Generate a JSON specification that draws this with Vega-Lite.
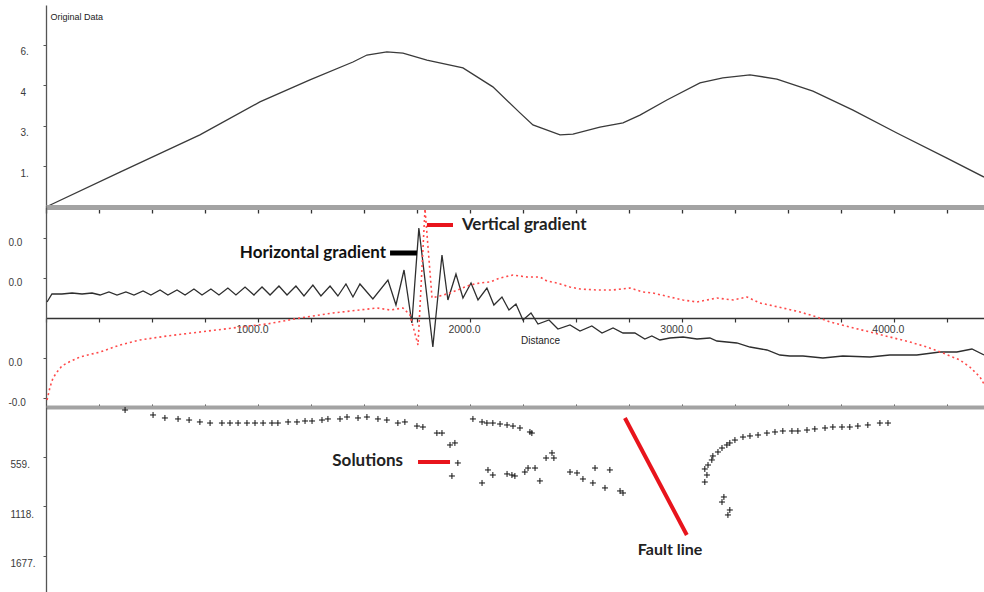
{
  "$schema": "https://vega.github.io/schema/vega-lite/v6.json",
  "padding": {"left": 8, "top": 5, "right": 0, "bottom": 0},
  "background": "white",
  "spacing": 0,
  "bounds": "flush",
  "resolve": {"scale": {"x": "independent", "y": "independent"}, "axis": {"x": "independent", "y": "independent"}},
  "config": {
    "view": {"stroke": null},
    "font": "Liberation Sans",
    "axis": {"grid": false, "labelFont": "Liberation Sans", "labelColor": "#3a3a3a", "labelFontSize": 10, "titleFont": "Liberation Sans", "titleColor": "#222", "titleFontWeight": "normal", "titleFontSize": 9, "domainColor": "#555", "tickColor": "#555", "labelFlush": false, "labelOverlap": false}
  },
  "datasets": {
    "orig": [
      {"x": 0, "y": 0}, {"x": 349, "y": 1.25}, {"x": 726, "y": 2.58}, {"x": 1009, "y": 3.76}, {"x": 1245, "y": 4.55},
      {"x": 1448, "y": 5.19}, {"x": 1514, "y": 5.44}, {"x": 1608, "y": 5.55}, {"x": 1684, "y": 5.51}, {"x": 1797, "y": 5.26},
      {"x": 1967, "y": 4.98}, {"x": 2108, "y": 4.30}, {"x": 2236, "y": 3.37}, {"x": 2297, "y": 2.94}, {"x": 2425, "y": 2.58},
      {"x": 2486, "y": 2.61}, {"x": 2613, "y": 2.86}, {"x": 2722, "y": 3.01}, {"x": 2802, "y": 3.29}, {"x": 2929, "y": 3.83},
      {"x": 3085, "y": 4.44}, {"x": 3193, "y": 4.62}, {"x": 3321, "y": 4.73}, {"x": 3448, "y": 4.58}, {"x": 3618, "y": 4.15},
      {"x": 3807, "y": 3.47}, {"x": 4014, "y": 2.65}, {"x": 4250, "y": 1.75}, {"x": 4425, "y": 1.07}
    ],
    "hgrad": [
      {"x": 5, "y": 0.40}, {"x": 28, "y": 0.60}, {"x": 75, "y": 0.60}, {"x": 123, "y": 0.625}, {"x": 170, "y": 0.60},
      {"x": 217, "y": 0.625}, {"x": 255, "y": 0.575}, {"x": 297, "y": 0.65}, {"x": 335, "y": 0.575}, {"x": 377, "y": 0.65},
      {"x": 415, "y": 0.575}, {"x": 458, "y": 0.675}, {"x": 495, "y": 0.575}, {"x": 538, "y": 0.70}, {"x": 575, "y": 0.575},
      {"x": 618, "y": 0.70}, {"x": 656, "y": 0.575}, {"x": 698, "y": 0.725}, {"x": 736, "y": 0.575}, {"x": 778, "y": 0.725},
      {"x": 816, "y": 0.575}, {"x": 858, "y": 0.75}, {"x": 896, "y": 0.575}, {"x": 939, "y": 0.775}, {"x": 981, "y": 0.575},
      {"x": 1019, "y": 0.775}, {"x": 1057, "y": 0.575}, {"x": 1099, "y": 0.80}, {"x": 1137, "y": 0.575}, {"x": 1179, "y": 0.80},
      {"x": 1217, "y": 0.55}, {"x": 1259, "y": 0.825}, {"x": 1297, "y": 0.55}, {"x": 1340, "y": 0.80}, {"x": 1377, "y": 0.55},
      {"x": 1415, "y": 0.85}, {"x": 1448, "y": 0.525}, {"x": 1481, "y": 0.85}, {"x": 1542, "y": 0.475}, {"x": 1613, "y": 0.95},
      {"x": 1651, "y": 0.325}, {"x": 1689, "y": 1.20}, {"x": 1726, "y": -0.125}, {"x": 1759, "y": 2.25}, {"x": 1825, "y": -0.725},
      {"x": 1868, "y": 1.575}, {"x": 1896, "y": 0.45}, {"x": 1934, "y": 1.10}, {"x": 1967, "y": 0.50}, {"x": 2005, "y": 0.875},
      {"x": 2038, "y": 0.45}, {"x": 2080, "y": 0.75}, {"x": 2113, "y": 0.325}, {"x": 2151, "y": 0.525}, {"x": 2184, "y": 0.20},
      {"x": 2217, "y": 0.35}, {"x": 2250, "y": -0.05}, {"x": 2288, "y": 0.125}, {"x": 2321, "y": -0.15}, {"x": 2373, "y": -0.05},
      {"x": 2415, "y": -0.275}, {"x": 2472, "y": -0.175}, {"x": 2519, "y": -0.325}, {"x": 2575, "y": -0.20}, {"x": 2623, "y": -0.375},
      {"x": 2675, "y": -0.25}, {"x": 2722, "y": -0.375}, {"x": 2778, "y": -0.375}, {"x": 2825, "y": -0.525}, {"x": 2858, "y": -0.45},
      {"x": 2896, "y": -0.55}, {"x": 2943, "y": -0.50}, {"x": 3005, "y": -0.475}, {"x": 3071, "y": -0.525}, {"x": 3132, "y": -0.50},
      {"x": 3165, "y": -0.575}, {"x": 3259, "y": -0.625}, {"x": 3321, "y": -0.725}, {"x": 3401, "y": -0.80}, {"x": 3462, "y": -0.925},
      {"x": 3509, "y": -0.95}, {"x": 3571, "y": -0.95}, {"x": 3665, "y": -1.00}, {"x": 3759, "y": -0.95}, {"x": 3887, "y": -0.975},
      {"x": 3981, "y": -0.925}, {"x": 4108, "y": -0.925}, {"x": 4217, "y": -0.85}, {"x": 4297, "y": -0.85}, {"x": 4368, "y": -0.775},
      {"x": 4425, "y": -0.925}
    ],
    "vgrad": [
      {"x": 5, "y": -2.05}, {"x": 19, "y": -1.725}, {"x": 33, "y": -1.50}, {"x": 52, "y": -1.35}, {"x": 75, "y": -1.20},
      {"x": 99, "y": -1.125}, {"x": 160, "y": -0.975}, {"x": 255, "y": -0.85}, {"x": 349, "y": -0.675}, {"x": 443, "y": -0.55},
      {"x": 571, "y": -0.45}, {"x": 726, "y": -0.35}, {"x": 882, "y": -0.25}, {"x": 1042, "y": -0.15}, {"x": 1198, "y": 0},
      {"x": 1354, "y": 0.125}, {"x": 1561, "y": 0.25}, {"x": 1623, "y": 0.20}, {"x": 1684, "y": 0.25}, {"x": 1717, "y": 0.075},
      {"x": 1755, "y": -0.675}, {"x": 1788, "y": 2.725}, {"x": 1821, "y": 0.50}, {"x": 1858, "y": 0.55}, {"x": 1906, "y": 0.625},
      {"x": 2000, "y": 0.825}, {"x": 2047, "y": 0.875}, {"x": 2094, "y": 0.90}, {"x": 2142, "y": 1.00}, {"x": 2203, "y": 1.075},
      {"x": 2269, "y": 1.025}, {"x": 2330, "y": 1.025}, {"x": 2363, "y": 0.925}, {"x": 2410, "y": 0.875}, {"x": 2472, "y": 0.775},
      {"x": 2519, "y": 0.725}, {"x": 2599, "y": 0.70}, {"x": 2675, "y": 0.70}, {"x": 2755, "y": 0.75}, {"x": 2816, "y": 0.65},
      {"x": 2863, "y": 0.625}, {"x": 2943, "y": 0.525}, {"x": 3005, "y": 0.45}, {"x": 3071, "y": 0.40}, {"x": 3165, "y": 0.50},
      {"x": 3241, "y": 0.45}, {"x": 3307, "y": 0.525}, {"x": 3368, "y": 0.375}, {"x": 3476, "y": 0.25}, {"x": 3557, "y": 0.15},
      {"x": 3637, "y": 0.025}, {"x": 3698, "y": -0.10}, {"x": 3792, "y": -0.225}, {"x": 3887, "y": -0.35}, {"x": 3981, "y": -0.475},
      {"x": 4075, "y": -0.60}, {"x": 4156, "y": -0.725}, {"x": 4231, "y": -0.875}, {"x": 4311, "y": -1.05}, {"x": 4358, "y": -1.225},
      {"x": 4406, "y": -1.475}, {"x": 4425, "y": -1.65}
    ],
    "sol": [
      {"x": 373, "y": 34}, {"x": 505, "y": 90}, {"x": 561, "y": 124}, {"x": 623, "y": 135}, {"x": 675, "y": 147},
      {"x": 726, "y": 169}, {"x": 774, "y": 181}, {"x": 830, "y": 181}, {"x": 868, "y": 181}, {"x": 906, "y": 181},
      {"x": 948, "y": 181}, {"x": 986, "y": 181}, {"x": 1024, "y": 181}, {"x": 1066, "y": 181}, {"x": 1094, "y": 181},
      {"x": 1142, "y": 169}, {"x": 1184, "y": 169}, {"x": 1222, "y": 158}, {"x": 1255, "y": 158}, {"x": 1302, "y": 147},
      {"x": 1330, "y": 135}, {"x": 1387, "y": 135}, {"x": 1420, "y": 113}, {"x": 1472, "y": 124}, {"x": 1514, "y": 113},
      {"x": 1566, "y": 135}, {"x": 1608, "y": 147}, {"x": 1660, "y": 181}, {"x": 1693, "y": 169}, {"x": 1750, "y": 215},
      {"x": 1778, "y": 226}, {"x": 1844, "y": 294}, {"x": 1868, "y": 294}, {"x": 1906, "y": 429}, {"x": 1929, "y": 406},
      {"x": 1943, "y": 632}, {"x": 1915, "y": 779}, {"x": 2014, "y": 135}, {"x": 2057, "y": 169}, {"x": 2080, "y": 181},
      {"x": 2108, "y": 181}, {"x": 2142, "y": 192}, {"x": 2175, "y": 203}, {"x": 2203, "y": 215}, {"x": 2236, "y": 237},
      {"x": 2283, "y": 282}, {"x": 2292, "y": 294}, {"x": 2057, "y": 858}, {"x": 2085, "y": 711}, {"x": 2108, "y": 768},
      {"x": 2175, "y": 756}, {"x": 2198, "y": 768}, {"x": 2212, "y": 779}, {"x": 2259, "y": 734}, {"x": 2274, "y": 689},
      {"x": 2307, "y": 689}, {"x": 2330, "y": 835}, {"x": 2359, "y": 576}, {"x": 2387, "y": 519}, {"x": 2396, "y": 576},
      {"x": 2472, "y": 734}, {"x": 2505, "y": 745}, {"x": 2533, "y": 813}, {"x": 2580, "y": 858}, {"x": 2590, "y": 689},
      {"x": 2637, "y": 914}, {"x": 2660, "y": 711}, {"x": 2708, "y": 948}, {"x": 2722, "y": 971},
      {"x": 3108, "y": 847}, {"x": 3118, "y": 768}, {"x": 3108, "y": 700}, {"x": 3123, "y": 655}, {"x": 3141, "y": 598},
      {"x": 3146, "y": 553}, {"x": 3170, "y": 508}, {"x": 3189, "y": 463}, {"x": 3212, "y": 429}, {"x": 3226, "y": 406},
      {"x": 3250, "y": 373}, {"x": 3288, "y": 339}, {"x": 3321, "y": 327}, {"x": 3359, "y": 316}, {"x": 3401, "y": 294},
      {"x": 3439, "y": 282}, {"x": 3476, "y": 271}, {"x": 3519, "y": 271}, {"x": 3547, "y": 271}, {"x": 3590, "y": 260},
      {"x": 3627, "y": 248}, {"x": 3675, "y": 237}, {"x": 3712, "y": 226}, {"x": 3755, "y": 226}, {"x": 3792, "y": 226},
      {"x": 3830, "y": 215}, {"x": 3877, "y": 203}, {"x": 3934, "y": 181}, {"x": 3972, "y": 181},
      {"x": 3198, "y": 1016}, {"x": 3189, "y": 1073}, {"x": 3226, "y": 1163}, {"x": 3217, "y": 1219}
    ]
  },
  "vconcat": [
    {
      "width": 938,
      "height": 202,
      "layer": [
        {
          "data": {"name": "orig"},
          "mark": {"type": "line", "color": "#3a3a3a", "strokeWidth": 1.3},
          "encoding": {
            "x": {"field": "x", "type": "quantitative", "scale": {"domain": [0, 4425], "nice": false, "zero": false},
              "axis": {"orient": "bottom", "title": null, "labels": false, "values": [0, 250, 500, 750, 1000, 1250, 1500, 1750, 2000, 2250, 2500, 2750, 3000, 3250, 3500, 3750, 4000, 4250], "domainColor": "#a3a3a3", "domainWidth": 5, "tickColor": "#333", "tickSize": 6, "tickWidth": 1.3, "zindex": 1}},
            "y": {"field": "y", "type": "quantitative", "scale": {"domain": [0, 7.23], "nice": false, "zero": false},
              "axis": {"orient": "left", "values": [1.45, 2.9, 4.35, 5.8], "labelExpr": "datum.value < 2 ? '1.' : datum.value < 3.5 ? '3.' : datum.value < 5 ? '4' : '6.'", "labelAlign": "left", "labelPadding": 23, "tickSize": 3, "labelOffset": 7, "labelBaseline": "middle", "domainWidth": 1.3, "title": "Original Data", "titleAngle": 0, "titleX": 4, "titleY": 11, "titleAlign": "left", "titleBaseline": "middle"}}
          }
        }
      ]
    },
    {
      "width": 938,
      "height": 200,
      "layer": [
        {
          "data": {"name": "hgrad"},
          "mark": {"type": "line", "color": "#2e2e2e", "strokeWidth": 1.3},
          "encoding": {
            "x": {"field": "x", "type": "quantitative", "scale": {"domain": [0, 4425], "nice": false, "zero": false},
              "axis": {"orient": "bottom", "offset": -89, "values": [0, 250, 500, 750, 1000, 1250, 1500, 1750, 2000, 2250, 2500, 2750, 3000, 3250, 3500, 3750, 4000, 4250], "labelExpr": "datum.value > 0 && datum.value % 1000 == 0 ? format(datum.value, '.1f') : ''", "labelOffset": -6, "labelPadding": 2, "labelFontSize": 10.5, "domainColor": "#333", "domainWidth": 1.3, "tickColor": "#333", "tickSize": 4, "tickWidth": 1.2, "title": "Distance", "titleFontSize": 10, "titleX": 494, "titleY": 17, "titleBaseline": "top", "titleAnchor": null}},
            "y": {"field": "y", "type": "quantitative", "scale": {"domain": [-2.225, 2.775], "nice": false, "zero": false},
              "axis": {"orient": "left", "values": [-2, -1, 1, 2], "labelExpr": "datum.value < -1.5 ? '-0.0' : '0.0'", "labelAlign": "left", "labelPadding": 35, "tickSize": 3, "labelOffset": 4, "labelBaseline": "middle", "domainWidth": 1.3, "title": null}}
          }
        },
        {
          "data": {"name": "vgrad"},
          "mark": {"type": "line", "color": "#ff4a4a", "strokeWidth": 1.6, "strokeDash": [2, 3]},
          "encoding": {
            "x": {"field": "x", "type": "quantitative"},
            "y": {"field": "y", "type": "quantitative"}
          }
        },
        {
          "data": {"values": [{"x": 1623, "x2": 1750, "y": 1.625}]},
          "mark": {"type": "rule", "color": "#000000", "strokeWidth": 5},
          "encoding": {
            "x": {"field": "x", "type": "quantitative"},
            "x2": {"field": "x2"},
            "y": {"field": "y", "type": "quantitative"}
          }
        },
        {
          "data": {"values": [{"x": 1797, "x2": 1920, "y": 2.325}]},
          "mark": {"type": "rule", "color": "#e8141c", "strokeWidth": 4},
          "encoding": {
            "x": {"field": "x", "type": "quantitative"},
            "x2": {"field": "x2"},
            "y": {"field": "y", "type": "quantitative"}
          }
        },
        {
          "data": {"values": [{"x": 1604, "y": 1.625, "t": "Horizontal gradient"}]},
          "mark": {"type": "text", "align": "right", "baseline": "middle", "font": "Lato", "fontWeight": "bold", "fontSize": 17, "color": "#111"},
          "encoding": {
            "x": {"field": "x", "type": "quantitative"},
            "y": {"field": "y", "type": "quantitative"},
            "text": {"field": "t"}
          }
        },
        {
          "data": {"values": [{"x": 1962, "y": 2.325, "t": "Vertical gradient"}]},
          "mark": {"type": "text", "align": "left", "baseline": "middle", "font": "Lato", "fontWeight": "bold", "fontSize": 17, "color": "#222"},
          "encoding": {
            "x": {"field": "x", "type": "quantitative"},
            "y": {"field": "y", "type": "quantitative"},
            "text": {"field": "t"}
          }
        }
      ]
    },
    {
      "width": 938,
      "height": 185,
      "layer": [
        {
          "data": {"name": "sol"},
          "mark": {"type": "point", "shape": "M-1,0H1M0,-1V1", "size": 36, "filled": false, "color": "#111", "strokeWidth": 1, "opacity": 1},
          "encoding": {
            "x": {"field": "x", "type": "quantitative", "scale": {"domain": [0, 4425], "nice": false, "zero": false},
              "axis": {"orient": "top", "title": null, "labels": false, "values": [0, 250, 500, 750, 1000, 1250, 1500, 1750, 2000, 2250, 2500, 2750, 3000, 3250, 3500, 3750, 4000, 4250], "domainColor": "#a3a3a3", "domainWidth": 4, "tickColor": "#444", "tickSize": 3, "tickWidth": 1}},
            "y": {"field": "y", "type": "quantitative", "scale": {"domain": [0, 2089], "nice": false, "zero": false, "reverse": true},
              "axis": {"orient": "left", "values": [559, 1118, 1677], "labelExpr": "datum.value + '.'", "labelAlign": "left", "labelPadding": 33, "tickSize": 3, "labelOffset": 8, "labelBaseline": "middle", "domainWidth": 1.3, "title": null}}
          }
        },
        {
          "data": {"values": [{"x": 1755, "x2": 1906, "y": 621, "y2": 621}, {"x": 2731, "x2": 3023, "y": 124, "y2": 1445}]},
          "mark": {"type": "rule", "color": "#e8141c", "strokeWidth": 4},
          "encoding": {
            "x": {"field": "x", "type": "quantitative"},
            "x2": {"field": "x2"},
            "y": {"field": "y", "type": "quantitative"},
            "y2": {"field": "y2"}
          }
        },
        {
          "data": {"values": [{"x": 1684, "y": 610, "t": "Solutions"}]},
          "mark": {"type": "text", "align": "right", "baseline": "middle", "font": "Lato", "fontWeight": "bold", "fontSize": 17, "color": "#222"},
          "encoding": {
            "x": {"field": "x", "type": "quantitative"},
            "y": {"field": "y", "type": "quantitative"},
            "text": {"field": "t"}
          }
        },
        {
          "data": {"values": [{"x": 2792, "y": 1614, "t": "Fault line"}]},
          "mark": {"type": "text", "align": "left", "baseline": "middle", "font": "Lato", "fontWeight": "bold", "fontSize": 16, "color": "#222"},
          "encoding": {
            "x": {"field": "x", "type": "quantitative"},
            "y": {"field": "y", "type": "quantitative"},
            "text": {"field": "t"}
          }
        }
      ]
    }
  ]
}
